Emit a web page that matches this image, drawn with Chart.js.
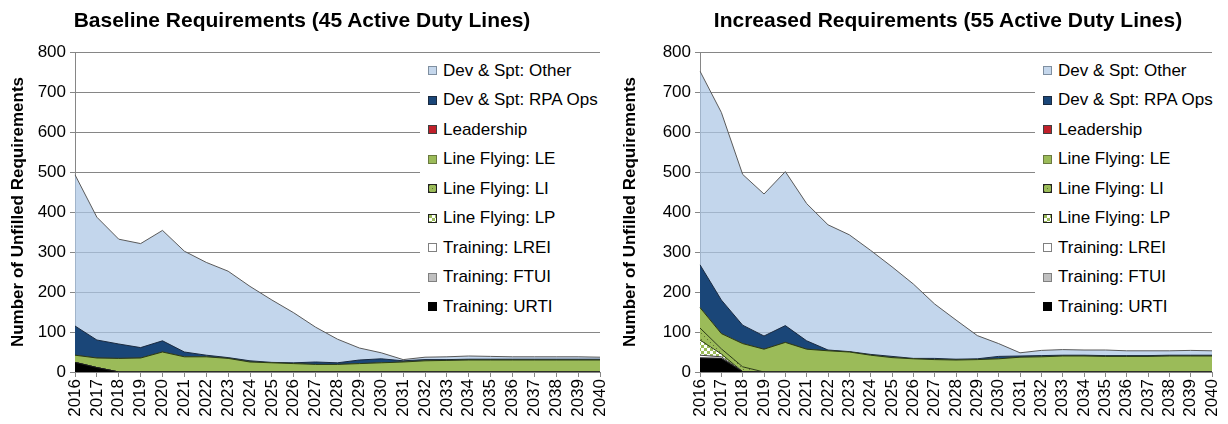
<!DOCTYPE html>
<html>
<head>
<meta charset="utf-8">
<script src="https://cdn.jsdelivr.net/npm/chart.js@4"></script>
<style>
  body { margin: 0; background: #fff; font-family: "Liberation Sans", Arial, sans-serif; }
  #wrap { position: relative; width: 1228px; height: 424px; overflow: hidden; }
  .panel { position: absolute; top: 0; width: 614px; height: 424px; }
  .title { position: absolute; top: 8px; font-weight: bold; font-size: 21px; line-height: 24px;
           white-space: nowrap; transform: translateX(-50%); color: #000; }
  .legend { position: absolute; top: 56px; background: #fff; font-size: 17px; color: #000; }
  .legend .row { height: 29.5px; display: flex; align-items: center; white-space: nowrap; }
  .legend .box { width: 7px; height: 7px; border: 1px solid #555; margin-right: 6px; flex: none; }
</style>
</head>
<body>
<div id="wrap">
  <div class="panel" style="left:0"><canvas id="baseChart" width="614" height="424"></canvas></div>
  <div class="panel" style="left:614px"><canvas id="incChart" width="614" height="424"></canvas></div>
  <div class="title" style="left:302px">Baseline Requirements (45 Active Duty Lines)</div>
  <div class="title" style="left:948px">Increased Requirements (55 Active Duty Lines)</div>
  <div class="legend" id="baseLegend" style="left:420px;width:190px;padding-left:8px"></div>
  <div class="legend" id="incLegend" style="left:1035px;width:185px;padding-left:8px"></div>
</div>

<script>
// ===== Data =====
const years = ['2016','2017','2018','2019','2020','2021','2022','2023','2024','2025','2026','2027','2028',
               '2029','2030','2031','2032','2033','2034','2035','2036','2037','2038','2039','2040'];

const seriesNames = ['Training: URTI', 'Training: FTUI', 'Training: LREI', 'Line Flying: LP', 'Line Flying: LI',
                     'Line Flying: LE', 'Leadership', 'Dev & Spt: RPA Ops', 'Dev & Spt: Other'];

// Baseline (45 lines)
const baseURTI  = [24, 11, 0, 0, 0, 0, 0, 0, 0, 0, 0, 0, 0, 0, 0, 0, 0, 0, 0, 0, 0, 0, 0, 0, 0];
const baseFTUI  = [0, 0, 0, 0, 0, 0, 0, 0, 0, 0, 0, 0, 0, 0, 0, 0, 0, 0, 0, 0, 0, 0, 0, 0, 0];
const baseLREI  = [0, 0, 0, 0, 0, 0, 0, 0, 0, 0, 0, 0, 0, 0, 0, 0, 0, 0, 0, 0, 0, 0, 0, 0, 0];
const baseLP    = [0, 0, 0, 0, 0, 0, 0, 0, 0, 0, 0, 0, 0, 0, 0, 0, 0, 0, 0, 0, 0, 0, 0, 0, 0];
const baseLI    = [0, 0, 0, 0, 0, 0, 0, 0, 0, 0, 0, 0, 0, 0, 0, 0, 0, 0, 0, 0, 0, 0, 0, 0, 0];
const baseLE    = [18, 24, 34, 35, 50, 38, 38, 34, 25, 23, 21, 19, 19, 21, 23, 25, 28, 29, 30, 30, 30, 30, 30, 30, 30];
const baseLead  = [0, 0, 0, 0, 0, 0, 0, 0, 0, 0, 0, 0, 0, 0, 0, 0, 0, 0, 0, 0, 0, 0, 0, 0, 0];
const baseRPA   = [73, 45, 36, 26, 28, 12, 4, 2, 3, 1, 2, 6, 4, 9, 10, 3, 3, 2, 2, 2, 2, 2, 2, 2, 2];
const baseOther = [378, 307, 262, 260, 276, 252, 232, 216, 186, 156, 125, 87, 59, 30, 15, 3, 6, 7, 8, 7, 6, 6, 6, 6, 5];

// Increased (55 lines)
const incURTI  = [35, 34, 1, 0, 0, 0, 0, 0, 0, 0, 0, 0, 0, 0, 0, 0, 0, 0, 0, 0, 0, 0, 0, 0, 0];
const incFTUI  = [0, 0, 0, 0, 0, 0, 0, 0, 0, 0, 0, 0, 0, 0, 0, 0, 0, 0, 0, 0, 0, 0, 0, 0, 0];
const incLREI  = [7, 4, 0, 0, 0, 0, 0, 0, 0, 0, 0, 0, 0, 0, 0, 0, 0, 0, 0, 0, 0, 0, 0, 0, 0];
const incLP    = [38, 7, 0, 0, 0, 0, 0, 0, 0, 0, 0, 0, 0, 0, 0, 0, 0, 0, 0, 0, 0, 0, 0, 0, 0];
const incLI    = [30, 13, 12, 0, 0, 0, 0, 0, 0, 0, 0, 0, 0, 0, 0, 0, 0, 0, 0, 0, 0, 0, 0, 0, 0];
const incLE    = [51, 38, 58, 57, 74, 57, 53, 50, 42, 36, 33, 31, 30, 31, 33, 37, 38, 40, 40, 39, 39, 39, 40, 40, 40];
const incLead  = [0, 0, 0, 0, 0, 0, 0, 0, 0, 0, 0, 0, 0, 0, 0, 0, 0, 0, 0, 0, 0, 0, 0, 0, 0];
const incRPA   = [107, 84, 46, 33, 42, 21, 2, 1, 2, 3, 1, 3, 2, 2, 6, 3, 3, 2, 2, 2, 2, 2, 2, 2, 2];
const incOther = [484, 469, 377, 355, 385, 343, 313, 292, 260, 224, 186, 136, 98, 58, 32, 8, 13, 14, 13, 14, 12, 12, 11, 12, 11];

// ===== Fill patterns =====
function makePatternCanvas(kind) {
    const c = document.createElement('canvas');
    c.width = 6; c.height = 6;
    const g = c.getContext('2d');
    if (kind === 'dots') {
        g.fillStyle = '#9bbb59';
        g.fillRect(0, 0, 6, 6);
        g.fillStyle = '#5f7530';
        g.fillRect(0, 0, 1, 1);
        g.fillRect(3, 3, 1, 1);
    } else {
        g.fillStyle = '#ffffff';
        g.fillRect(0, 0, 6, 6);
        g.fillStyle = '#9bbb59';
        g.fillRect(0, 0, 3, 3);
        g.fillRect(3, 3, 3, 3);
    }
    return c;
}

const tmpCtx = document.createElement('canvas').getContext('2d');
const dotsCanvas = makePatternCanvas('dots');
const checkCanvas = makePatternCanvas('check');

// fill, border for each series (same order as seriesNames)
const seriesFills = ['#000000', '#bfbfbf', '#ffffff',
                     tmpCtx.createPattern(checkCanvas, 'repeat'),
                     tmpCtx.createPattern(dotsCanvas, 'repeat'),
                     '#9bbb59', '#c0202a', '#1a4678', 'rgba(172,198,228,0.72)'];
const seriesBorders = ['#1a1a1a', '#404040', '#404040', '#2a3a14', '#2a3a14', '#2a3a14', '#404040', '#1a2a40', '#5a5a5a'];
const legendBg = ['#000', '#c0c0c0', '#fff', 'url(' + checkCanvas.toDataURL() + ')', 'url(' + dotsCanvas.toDataURL() + ')',
                  '#9bbb59', '#c0202a', '#1a4678', '#c5d7ec'];
const legendBorder = ['#000', '#808080', '#808080', '#222', '#222', '#6a7a40', '#404040', '#1a2a40', '#7f8fa0'];

// ===== Charts =====
function buildDatasets(seriesData) {
    return seriesData.map((d, i) => ({
        label: seriesNames[i],
        data: d,
        backgroundColor: seriesFills[i],
        borderColor: seriesBorders[i],
        borderWidth: 1,
        pointRadius: 0,
        tension: 0,
        fill: i === 0 ? 'origin' : '-1'
    }));
}

function makeChart(canvasId, seriesData, axisWidth, rightPad, titlePad) {
    return new Chart(document.getElementById(canvasId), {
        type: 'line',
        data: { labels: years, datasets: buildDatasets(seriesData) },
        options: {
            responsive: false,
            animation: false,
            events: [],
            layout: { padding: { top: 52, right: rightPad, bottom: 0, left: 0 } },
            plugins: { legend: { display: false }, tooltip: { enabled: false } },
            scales: {
                x: {
                    offset: false,
                    grid: { drawOnChartArea: false, tickLength: 5, color: '#868686' },
                    border: { color: '#868686' },
                    ticks: {
                        autoSkip: false, minRotation: 90, maxRotation: 90, padding: 2,
                        color: '#000', font: { size: 17, family: '"Liberation Sans", Arial' }
                    },
                    afterFit: (s) => { s.height = 52; s.paddingRight = 0; }
                },
                y: {
                    stacked: true,
                    min: 0, max: 800,
                    grid: { color: '#868686', tickLength: 5 },
                    border: { color: '#868686' },
                    ticks: {
                        stepSize: 100, padding: 4, color: '#000',
                        font: { size: 17, family: '"Liberation Sans", Arial' }
                    },
                    title: {
                        display: true, text: 'Number of Unfilled Requirements', color: '#000',
                        padding: { top: titlePad, bottom: 0 },
                        font: { size: 17, weight: 'bold', family: '"Liberation Sans", Arial' }
                    },
                    afterFit: (s) => { s.width = axisWidth; }
                }
            }
        }
    });
}

function renderLegend(elId) {
    const el = document.getElementById(elId);
    el.innerHTML = seriesNames.map((name, i) => i).reverse().map(i => `
        <div class="row"><span class="box" style="background:${legendBg[i]};border-color:${legendBorder[i]}"></span>${seriesNames[i]}</div>
    `).join('');
}

makeChart('baseChart',
    [baseURTI, baseFTUI, baseLREI, baseLP, baseLI, baseLE, baseLead, baseRPA, baseOther], 75, 14, 8);
makeChart('incChart',
    [incURTI, incFTUI, incLREI, incLP, incLI, incLE, incLead, incRPA, incOther], 86, 16, 6);
renderLegend('baseLegend');
renderLegend('incLegend');
</script>
</body>
</html>
